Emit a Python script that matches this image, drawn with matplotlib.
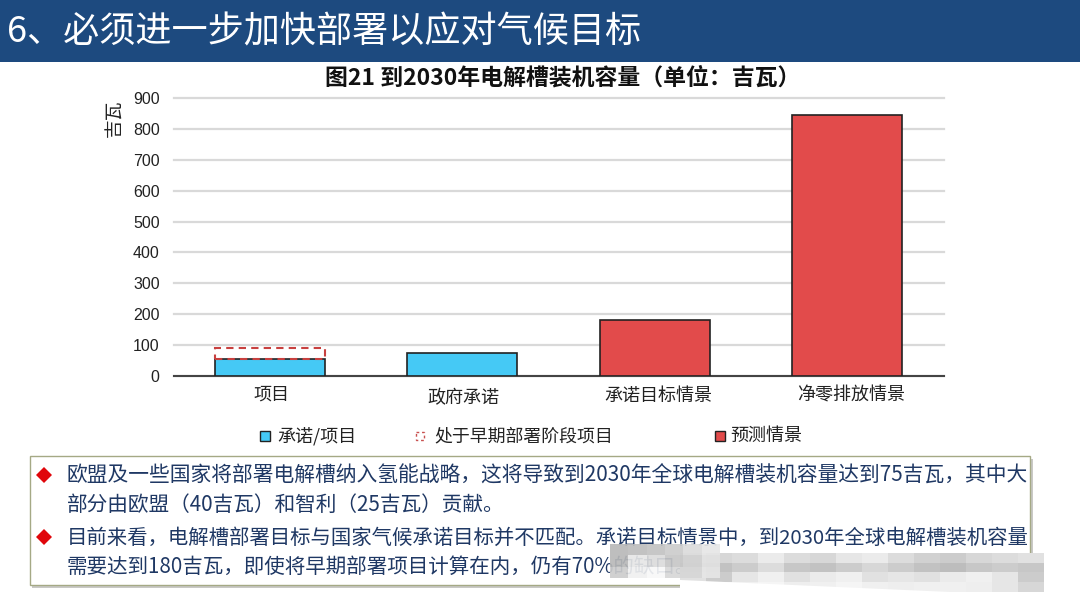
"""Slide: electrolyser capacity by 2030, bar chart with header and text box."""

import matplotlib
matplotlib.use("Agg")
import matplotlib.pyplot as plt
from matplotlib.patches import Polygon, Rectangle
from matplotlib.transforms import ScaledTranslation

plt.rcParams["font.family"] = ["Noto Sans CJK SC", "DejaVu Sans"]

W, H = 1080, 608

categories = ["项目", "政府承诺", "承诺目标情景", "净零排放情景"]
committed = [55, 75, 0, 0]
early_stage = [35, 0, 0, 0]
projected = [0, 0, 180, 845]
yticks = [0, 100, 200, 300, 400, 500, 600, 700, 800, 900]

header_text = "6、必须进一步加快部署以应对气候目标"
chart_title = "图21 到2030年电解槽装机容量（单位：吉瓦）"
y_unit = "吉瓦"
legend_labels = ["承诺/项目", "处于早期部署阶段项目", "预测情景"]
bullets = [
    ["欧盟及一些国家将部署电解槽纳入氢能战略，这将导致到2030年全球电解槽装机容量达到75吉瓦，其中大",
     "部分由欧盟（40吉瓦）和智利（25吉瓦）贡献。"],
    ["目前来看，电解槽部署目标与国家气候承诺目标并不匹配。承诺目标情景中，到2030年全球电解槽装机容量",
     "需要达到180吉瓦，即使将早期部署项目计算在内，仍有70%的缺口。"],
]

# mosaic smudge over the end of the text, grey levels
smudge_left = [
    [0.72, 0.74, 0.76, 0.80, 0.86, 0.90],
    [0.72, 0.90, 0.86, 0.78, 0.82, 0.88],
    [0.80, 0.94, 0.97, 0.84, 0.84, 0.90],
]
smudge_right = [
    [0.90, 0.84, 0.86, 0.92, 0.86, 0.84, 0.90, 0.92, 0.86, 0.82, 0.80, 0.84, 0.86, 0.88],
    [0.82, 0.76, 0.80, 0.86, 0.78, 0.76, 0.80, 0.84, 0.80, 0.76, 0.74, 0.78, 0.80, 0.78],
    [0.88, 0.80, 0.90, 0.94, 0.88, 0.92, 0.94, 0.88, 0.90, 0.88, 0.92, 0.94, 0.90, 0.80],
    [0.96, 0.94, 0.94, 0.96, 0.93, 0.94, 0.96, 0.94, 0.93, 0.94, 0.94, 0.93, 0.90, 0.84],
]
label_shift_px = [2, 1, 4, 4]
label_drop_px = [0, 3, 1, 1]
bullet_sizes = [14.96, 14.9, 14.7, 14.8]

fig = plt.figure(figsize=(W / 100, H / 100), dpi=100, facecolor="white")

# page layer in pixel coordinates
page = fig.add_axes([0, 0, 1, 1])
page.set_xlim(0, W)
page.set_ylim(H, 0)
page.axis("off")

page.add_patch(Rectangle((0, 0), W, 62, color="#1d4a7f", lw=0))
page.text(7, 32, header_text, color="white", fontsize=26, va="center", ha="left", fontweight="medium")
page.text(325, 78, chart_title, color="#111111", fontsize=16.5, fontweight="bold", ha="left", va="center")
page.text(115, 118, y_unit, color="#222222", fontsize=13.5, rotation=90, ha="center", va="center")

# legend
page.add_patch(Rectangle((260, 431), 10, 10, facecolor="#45c9f5", edgecolor="#222222", lw=1))
page.text(277, 436, legend_labels[0], fontsize=13, color="#222222", va="center")
page.add_patch(Rectangle((416, 432), 8, 8, facecolor="none", edgecolor="#c8504f", lw=1, linestyle=(0, (2, 2))))
page.text(434, 436, legend_labels[1], fontsize=12.9, color="#222222", va="center")
page.add_patch(Rectangle((715, 431), 10, 10, facecolor="#e24b4b", edgecolor="#222222", lw=1))
page.text(730, 436, legend_labels[2], fontsize=13, color="#222222", va="center")

# text box with shadow
page.add_patch(Rectangle((32, 459), 1001, 129, facecolor="#c9c9c6", edgecolor="none"))
page.add_patch(Rectangle((30, 456), 1000, 129, facecolor="white", edgecolor="#a5a985", lw=1))
line_y = [476, 505, 538, 567]
for k, lines in enumerate(bullets):
    y0 = line_y[k * 2]
    page.add_patch(Polygon([(36, y0 - 1), (44, y0 - 9), (52, y0 - 1), (44, y0 + 7)], color="#e0060b", lw=0))
    for i, line in enumerate(lines):
        page.text(67, line_y[k * 2 + i], line, fontsize=bullet_sizes[k * 2 + i], color="#1f3864",
                  va="center", ha="left")

page.imshow(smudge_right, cmap="gray", vmin=0, vmax=1, extent=(680, 1044, 592, 553), aspect="auto",
            interpolation="nearest", zorder=5)
page.imshow(smudge_left, cmap="gray", vmin=0, vmax=1, extent=(610, 720, 578, 544), aspect="auto",
            interpolation="nearest", alpha=0.92, zorder=6)
page.set_xlim(0, W)
page.set_ylim(H, 0)
page.add_patch(Polygon([(680, 592), (680, 580), (950, 592)], color="white", lw=0, zorder=7))

# chart
ax = fig.add_axes([173.5 / W, 1 - 376 / H, (943.5 - 173.5) / W, (376 - 98) / H])
ax.patch.set_alpha(0)
x = list(range(len(categories)))
bar_style = dict(width=0.57, edgecolor="#222222", lw=1.2, zorder=3)
for i in x:
    if committed[i]:
        ax.bar(i, committed[i], color="#45c9f5", **bar_style)
    if early_stage[i]:
        ax.bar(i, early_stage[i], width=0.57, bottom=committed[i], facecolor="none", edgecolor="#c8403f",
               lw=1.5, linestyle=(0, (3.5, 2.5)), zorder=3)
    if projected[i]:
        ax.bar(i, projected[i], color="#e24b4b", **bar_style)
ax.set_xlim(-0.5, 3.5)
ax.set_ylim(0, 900)
ax.set_yticks(yticks)
ax.set_xticks(x, categories)
ax.grid(axis="y", color="#d9d9d9", lw=1.6, zorder=0, clip_on=False)
ax.set_axisbelow(True)
for side in ["top", "right", "left"]:
    ax.spines[side].set_visible(False)
ax.spines["bottom"].set_color("#444444")
ax.spines["bottom"].set_linewidth(1.5)
ax.tick_params(axis="both", length=0)
ax.tick_params(axis="x", labelsize=13, labelcolor="#222222", pad=7)
ax.tick_params(axis="y", labelsize=11.5, labelcolor="#222222", pad=10)
for lab in ax.get_yticklabels():
    lab.set_family(["Liberation Sans"])
for lab, dx, dy in zip(ax.get_xticklabels(), label_shift_px, label_drop_px):
    lab.set_transform(lab.get_transform() + ScaledTranslation(dx / 100, -dy / 100, fig.dpi_scale_trans))

fig.savefig("out.png", dpi=100)
